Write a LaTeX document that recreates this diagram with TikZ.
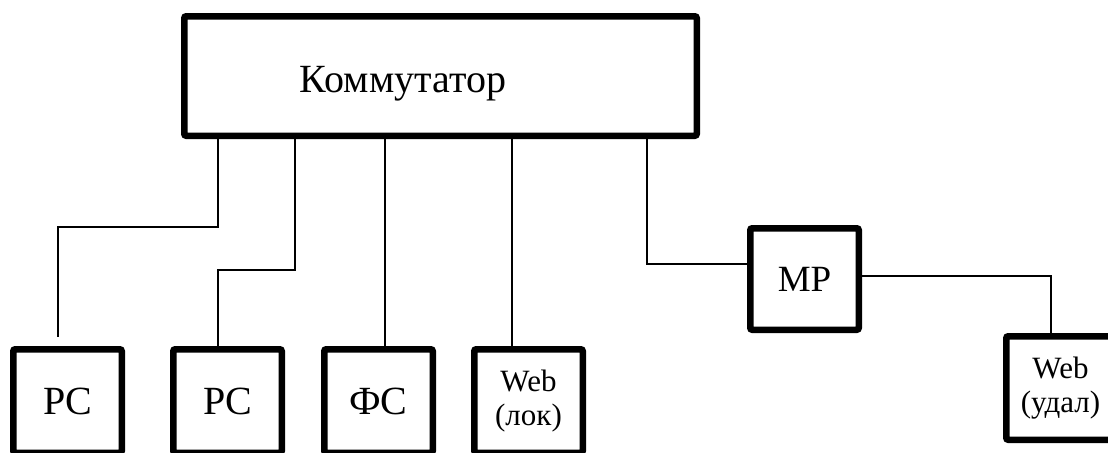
\documentclass[tikz,border=0pt]{standalone}
\usepackage{fontspec}
\setmainfont{Liberation Serif}
\begin{document}
\begin{tikzpicture}[x=0.5pt,y=-0.5pt,
  box/.style={draw,line width=3.25pt,rounded corners=1pt,inner sep=0pt,
    minimum width=54.25pt,minimum height=51.75pt,align=center},
  wire/.style={line width=1pt}]
\useasboundingbox (0,0) rectangle (1108,452);
\node[box,minimum width=256.25pt,minimum height=59.75pt] (sw) at (440.5,76) {};
\node[anchor=base,font=\fontsize{20}{24}\selectfont] (swt) at (403,92) {Коммутатор};
\node[box,font=\fontsize{20}{24}\selectfont] (pc1) at (67.5,401) {PC};
\node[box,font=\fontsize{20}{24}\selectfont] (pc2) at (227.5,401) {PC};
\node[box,font=\fontsize{20}{24}\selectfont] (fs) at (378.5,401) {ФС};
\node[box,font=\fontsize{15.5}{17}\selectfont] (web1) at (528.5,401) {Web\\(лок)};
\node[box,minimum height=50.75pt,font=\fontsize{18.5}{22}\selectfont] (mr) at (804.5,279) {MP};
\node[box,font=\fontsize{15.5}{17}\selectfont] (web2) at (1060.5,388) {Web\\(удал)};
\coordinate (c1end) at (58,337);
\draw[wire] (sw.south -| 218,0) -- (218,227) -- (58,227) -- (c1end);
\draw[wire] (sw.south -| 295,0) -- (295,270) -- (218,270) -- (pc2.north -| 218,0);
\draw[wire] (sw.south -| 385,0) -- (fs.north -| 385,0);
\draw[wire] (sw.south -| 512,0) -- (web1.north -| 512,0);
\draw[wire] (sw.south -| 647,0) -- (647,264) -- (mr.west |- 0,264);
\draw[wire] (mr.east |- 0,276) -- (1051,276) -- (web2.north -| 1051,0);
\end{tikzpicture}
\end{document}
